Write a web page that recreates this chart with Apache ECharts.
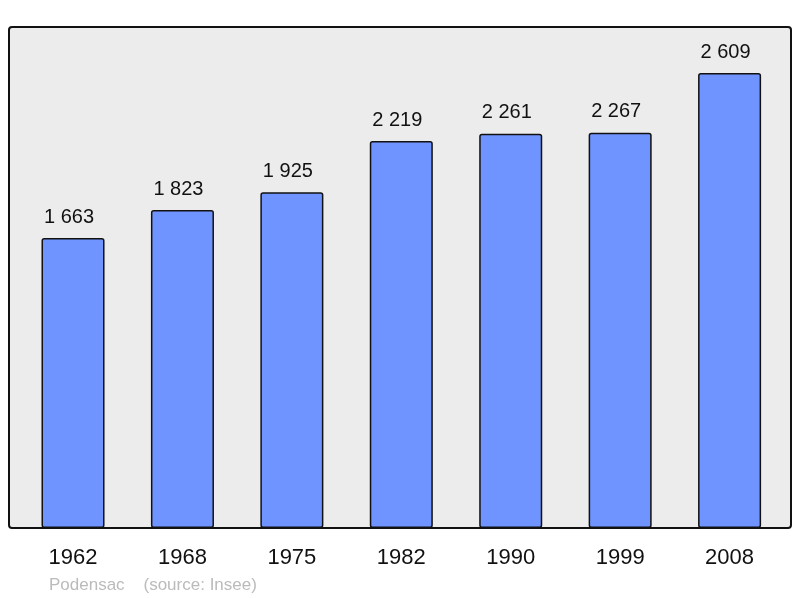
<!DOCTYPE html>
<html>
<head>
<meta charset="utf-8">
<script src="https://cdn.jsdelivr.net/npm/echarts@6/dist/echarts.min.js"></script>
<style>
  html, body { margin: 0; padding: 0; background: #fff; }
  #main { width: 800px; height: 598px; }
</style>
</head>
<body>
<div id="main"></div>
<script>
// années des recensements
var years = ['1962', '1968', '1975', '1982', '1990', '1999', '2008'];
// population
var population = [1663, 1823, 1925, 2219, 2261, 2267, 2609];

function fmt(v) {
  return String(v).replace(/\B(?=(\d{3})+(?!\d))/g, ' ');
}

var myChart = echarts.init(document.getElementById('main'));
myChart.setOption({
  animation: false,
  graphic: [
    { // fond gris du graphique
      type: 'rect',
      z: -10,
      shape: { x: 9, y: 27, width: 782, height: 501, r: 3 },
      style: { fill: '#ececec', stroke: '#111', lineWidth: 2 }
    },
    {
      type: 'text',
      left: 49,
      top: 577,
      style: {
        text: 'Podensac    (source: Insee)',
        fill: '#bbbbbb',
        font: '17px "Liberation Sans", Arial, sans-serif'
      }
    }
  ],
  grid: { left: 18.3, width: 766, top: 27, height: 501 },
  xAxis: {
    type: 'category',
    data: years,
    axisLine: { show: false },
    axisTick: { show: false },
    axisLabel: {
      margin: 19,
      color: '#111',
      fontSize: 22,
      fontFamily: '"Liberation Sans", Arial, sans-serif'
    }
  },
  yAxis: {
    type: 'value',
    min: 0,
    max: 2873,
    show: false,
    splitLine: { show: false }
  },
  series: [{
    type: 'bar',
    data: population,
    barWidth: '57.6%',
    itemStyle: {
      color: '#7094ff',
      borderColor: '#111',
      borderWidth: 1.5,
      borderRadius: 2
    },
    label: {
      show: true,
      position: 'top',
      distance: 11,
      offset: [-4, 0],
      color: '#111',
      fontSize: 20,
      fontFamily: '"Liberation Sans", Arial, sans-serif',
      formatter: function (p) { return fmt(p.value); }
    }
  }]
});
</script>
</body>
</html>
